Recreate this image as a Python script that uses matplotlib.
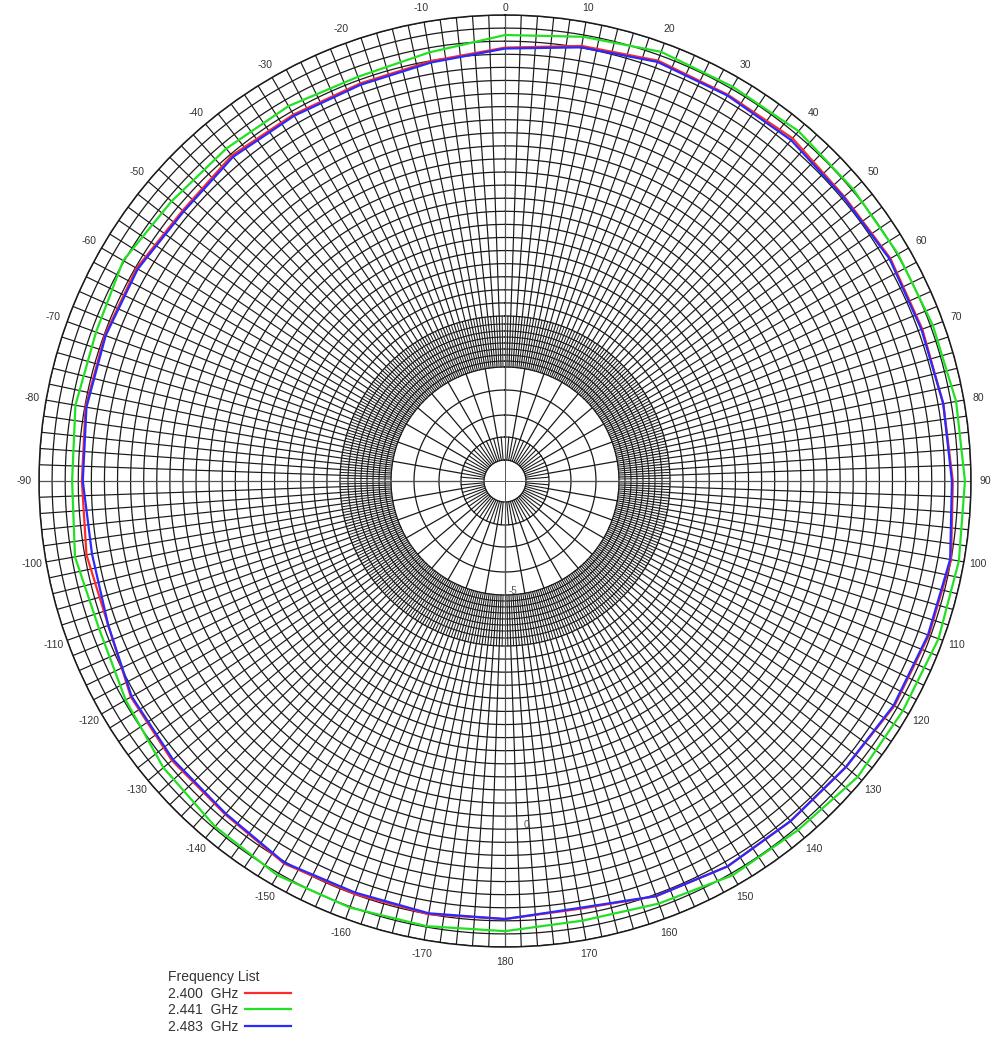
import numpy as np
import matplotlib
matplotlib.use("Agg")
import matplotlib.pyplot as plt
from matplotlib.lines import Line2D

plt.rcParams["font.family"] = ["Liberation Sans", "DejaVu Sans"]

# angle of each reading, degrees (0 = up, clockwise positive)
angle_deg = [-180, -170, -160, -150, -140, -130, -120, -110, -100, -90,
             -80, -70, -60, -50, -40, -30, -20, -10, 0, 10,
             20, 30, 40, 50, 60, 70, 80, 90, 100, 110,
             120, 130, 140, 150, 160, 170]

# radius, as fraction of the outer ring
gain_2400 = [0.940, 0.944, 0.943, 0.948, 0.934, 0.933, 0.927, 0.906, 0.912, 0.908,
             0.914, 0.914, 0.913, 0.903, 0.912, 0.908, 0.908, 0.915, 0.930, 0.948,
             0.960, 0.957, 0.960, 0.950, 0.955, 0.953, 0.955, 0.961, 0.972, 0.968,
             0.965, 0.955, 0.953, 0.955, 0.948, 0.932]
gain_2441 = [0.966, 0.970, 0.974, 0.977, 0.968, 0.957, 0.940, 0.927, 0.937, 0.929,
             0.936, 0.934, 0.946, 0.934, 0.931, 0.929, 0.923, 0.934, 0.957, 0.968,
             0.980, 0.977, 0.980, 0.975, 0.974, 0.977, 0.983, 0.987, 0.989, 0.990,
             0.986, 0.988, 0.978, 0.977, 0.965, 0.958]
gain_2483 = [0.940, 0.942, 0.940, 0.946, 0.932, 0.930, 0.925, 0.906, 0.900, 0.906,
             0.912, 0.912, 0.910, 0.900, 0.908, 0.905, 0.905, 0.912, 0.928, 0.945,
             0.957, 0.955, 0.955, 0.948, 0.953, 0.951, 0.955, 0.959, 0.970, 0.966,
             0.963, 0.955, 0.953, 0.955, 0.948, 0.930]

freq_labels = ["2.400  GHz", "2.441  GHz", "2.483  GHz"]
freq_colors = ["#ff2a2a", "#22e022", "#2a2aff"]

# angle tick labels every 10 degrees
tick_deg = list(range(-170, 190, 10))
tick_txt = [str(a) for a in tick_deg]

fig = plt.figure(figsize=(9.94, 10.47), dpi=100)
R = 466.0
cx, cy = 505.0, 1047 - 481.0
ax = fig.add_axes([(cx - R) / 994, (cy - R) / 1047, 2 * R / 994, 2 * R / 1047],
                  projection="polar")
ax.set_theta_zero_location("N")
ax.set_theta_direction(-1)
ax.grid(False)
ax.set_yticks([])

# --- grid drawn by hand: rings and spokes ---
gcol = "#1a1a1a"
full = np.linspace(0, 2 * np.pi, 721)
inner_rings = [21, 44, 66, 91, 114]
band_rings = [120, 126, 132, 138, 144, 150, 157]
outer_rings = list(np.linspace(165, 466, 24))
for rp in inner_rings + outer_rings:
    ax.plot(full, np.full_like(full, rp / R), color=gcol, lw=0.9, zorder=1)
for rp in band_rings:
    ax.plot(full, np.full_like(full, rp / R), color=gcol, lw=0.8, zorder=1)

for a in np.arange(0, 360, 5):
    t = np.deg2rad(a)
    ax.plot([t, t], [21 / R, 44 / R], color=gcol, lw=0.8, zorder=1)
for a in np.arange(0, 360, 10):
    t = np.deg2rad(a)
    ax.plot([t, t], [44 / R, 114 / R], color=gcol, lw=0.9, zorder=1)
for a in np.arange(1, 360, 2):
    t = np.deg2rad(a)
    ax.plot([t, t], [114 / R, 165 / R], color=gcol, lw=0.7, zorder=1)
for a in np.arange(0, 360, 2):
    t = np.deg2rad(a)
    ax.plot([t, t], [114 / R, 1.0], color=gcol, lw=0.85, zorder=1)
for a in (0, 90, 180, 270):
    t = np.deg2rad(a)
    ax.plot([t, t], [0, 1.0], color="#555555", lw=0.7, zorder=1)

ax.spines["polar"].set_color(gcol)
ax.spines["polar"].set_linewidth(1.1)

# radial labels along the bottom axis
ax.text(np.deg2rad(176), 110 / R, "-5", fontsize=7, color="#555555", ha="center", va="center")
ax.text(np.deg2rad(176.5), 345 / R, "0", fontsize=7, color="#555555", ha="center", va="center")

# --- the three frequency traces ---
th = np.deg2rad(np.array(angle_deg + [angle_deg[0] + 360]))
for vals, col in zip([gain_2441, gain_2400, gain_2483],
                     [freq_colors[1], freq_colors[0], freq_colors[2]]):
    ax.plot(th, vals + [vals[0]], color=col, lw=1.6, zorder=3)

# the "0" label at the very top is placed by hand so it stays inside the figure
tick_shown = ["" if t == "0" else t for t in tick_txt]
ax.set_xticks(np.deg2rad(np.array(tick_deg) % 360))
ax.set_xticklabels(tick_shown, fontsize=7.5, color="#333333")
ax.tick_params(axis="x", pad=0)
ax.set_thetalim(0, 2 * np.pi)
ax.set_ylim(0, 1)
fig.text(cx / 994, 1 - 8 / 1047, "0", fontsize=7.5, color="#333333",
         ha="center", va="center")

handles = [Line2D([], [], color=col, lw=1.6, label=lab)
           for col, lab in zip(freq_colors, freq_labels)]
leg = fig.legend(handles=handles, title="Frequency List", loc="upper left",
                 bbox_to_anchor=(158 / 994, 1 - 960 / 1047), frameon=False,
                 markerfirst=False, alignment="left", fontsize=10, title_fontsize=10,
                 handlelength=3.3, handletextpad=0.5, labelspacing=0.2,
                 borderpad=0.2)
for txt in leg.get_texts():
    txt.set_color("#333333")
leg.get_title().set_color("#333333")

fig.savefig("out.png", dpi=100)
